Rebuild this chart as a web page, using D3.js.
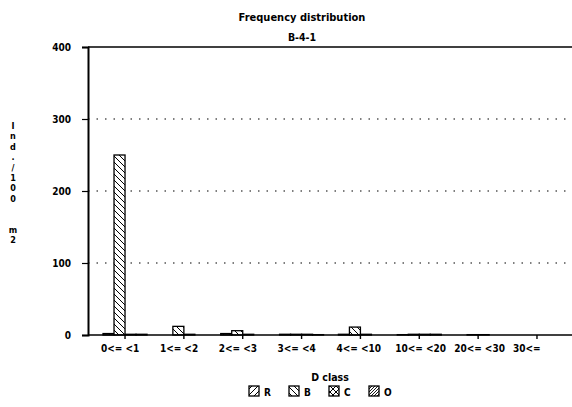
<!DOCTYPE html>
<html><head><meta charset="utf-8">
<script src="https://cdn.jsdelivr.net/npm/d3@7/dist/d3.min.js"></script>
<style>
body{margin:0;background:#fff;}
text{font-family:"DejaVu Sans Condensed","DejaVu Sans",sans-serif;font-weight:bold;fill:#000;}
</style></head>
<body><svg id="c" width="572" height="407"></svg>
<script>
const categories = ["0<= <1","1<= <2","2<= <3","3<= <4","4<= <10","10<= <20","20<= <30","30<="];
const series = ["R","B","C","O"];
const valuesR = [2, 0, 2, 1, 1, 0.5, 0, 0];
const valuesB = [250, 12, 6, 1, 11, 1, 0.5, 0];
const valuesC = [1, 1, 1, 1, 1, 1, 0.5, 0];
const valuesO = [1, 0, 0, 0.5, 0, 1, 0, 0];
const yTicks = [0, 100, 200, 300, 400];
const title = "Frequency distribution";
const subtitle = "B-4-1";
const xTitle = "D class";
const yTitle = ["I","n","d",".","/","1","0","0"," "," ","m","2"];

(function(){
const svg = d3.select("#c");
const defs = svg.append("defs");
function pat(id, size, paths, sw){
  const p = defs.append("pattern").attr("id", id).attr("patternUnits","userSpaceOnUse")
    .attr("width", size).attr("height", size);
  p.append("rect").attr("width", size).attr("height", size).attr("fill","#fff");
  paths.forEach(d => p.append("path").attr("d", d).attr("stroke","#000").attr("stroke-width", sw).attr("fill","none"));
}
pat("pR", 6, ["M0,6L6,0","M-1,1L1,-1","M5,7L7,5"], 1);
pat("pB", 6, ["M0,0L6,6","M-1,5L1,7","M5,-1L7,1"], 1);
pat("pC", 6, ["M0,0L6,6","M0,6L6,0"], 1);
pat("pO", 3, ["M0,3L3,0","M-1,1L1,-1","M2,4L4,2"], 0.9);
const fills = {R:"url(#pR)", B:"url(#pB)", C:"url(#pC)", O:"url(#pO)"};
const data = {R:valuesR, B:valuesB, C:valuesC, O:valuesO};

const mL = 88, mR = 572, mT = 47, mB = 335;
const y = d3.scaleLinear().domain([0, 400]).range([mB, mT]);
const x0 = d3.scaleBand().domain(categories).range([95.6, 566.4]).paddingInner(0).paddingOuter(0);
const bw = x0.bandwidth();
const x1 = d3.scaleBand().domain(series).range([bw/2 - 22, bw/2 + 22]);

svg.append("text").attr("x", 302).attr("y", 21).attr("text-anchor","middle").attr("font-size", 11).text(title);
svg.append("text").attr("x", 302).attr("y", 41).attr("text-anchor","middle").attr("font-size", 10.5).text(subtitle);

svg.append("g").selectAll("line").data(yTicks.filter(d => d > 0 && d < 400)).join("line")
  .attr("x1", mL).attr("x2", mR).attr("y1", d => y(d)).attr("y2", d => y(d))
  .attr("stroke","#000").attr("stroke-width",1.2).attr("stroke-dasharray","1.5,7");
svg.append("line").attr("x1", mL).attr("x2", mR).attr("y1", y(400)).attr("y2", y(400))
  .attr("stroke","#000").attr("stroke-width",1.6);

const yAxis = svg.append("g").attr("transform", `translate(${mL},0)`)
  .call(d3.axisLeft(y).tickValues(yTicks).tickSize(6).tickPadding(11).tickFormat(d3.format("d")));
yAxis.select(".domain").attr("stroke","#000").attr("stroke-width",2);
yAxis.selectAll(".tick line").attr("stroke","#000").attr("stroke-width",1.2);
yAxis.selectAll(".tick text").attr("font-size", 10).attr("font-family",'"DejaVu Sans Condensed",sans-serif').attr("font-weight","bold");

const g = svg.append("g");
series.forEach(s => {
  g.append("g").selectAll("rect").data(categories.map((c, i) => ({c, v: data[s][i]}))).join("rect")
    .attr("x", d => x0(d.c) + x1(s))
    .attr("y", d => y(d.v))
    .attr("width", x1.bandwidth())
    .attr("height", d => mB - y(d.v))
    .attr("fill", fills[s]).attr("stroke","#000").attr("stroke-width",1.3);
});

const xAxis = svg.append("g").attr("transform", `translate(0,${mB})`);
xAxis.append("line").attr("x1", mL).attr("x2", mR).attr("stroke","#000").attr("stroke-width",1.6);
xAxis.selectAll(".tk").data(categories).join("line").attr("class","tk")
  .attr("x1", d => x0(d) + bw/2).attr("x2", d => x0(d) + bw/2).attr("y1", 0).attr("y2", 4)
  .attr("stroke","#000").attr("stroke-width",1.4);
xAxis.selectAll(".lb").data(categories).join("text").attr("class","lb")
  .attr("x", d => x0(d) + bw/2 - 24).attr("y", 17).attr("font-size", 10).text(d => d);

svg.append("text").attr("x", 330).attr("y", 381).attr("text-anchor","middle").attr("font-size", 10.5).text(xTitle);

const yt = svg.append("text").attr("x", 13).attr("y", 129).attr("text-anchor","middle").attr("font-size", 9);
yt.selectAll("tspan").data(yTitle).join("tspan").attr("x", 13).attr("dy", (d,i) => i === 0 ? 0 : 10.4).text(d => d === " " ? "\u00a0" : d);

const lg = svg.append("g").attr("transform","translate(0,386)");
const lx = d3.scalePoint().domain(series).range([249, 369]);
series.forEach(s => {
  lg.append("rect").attr("x", lx(s)).attr("y", 0).attr("width", 10).attr("height", 10)
    .attr("fill", fills[s]).attr("stroke","#000").attr("stroke-width",1.3);
  lg.append("text").attr("x", lx(s) + 15).attr("y", 9.5).attr("font-size", 10).text(s);
});
})();
</script></body></html>
